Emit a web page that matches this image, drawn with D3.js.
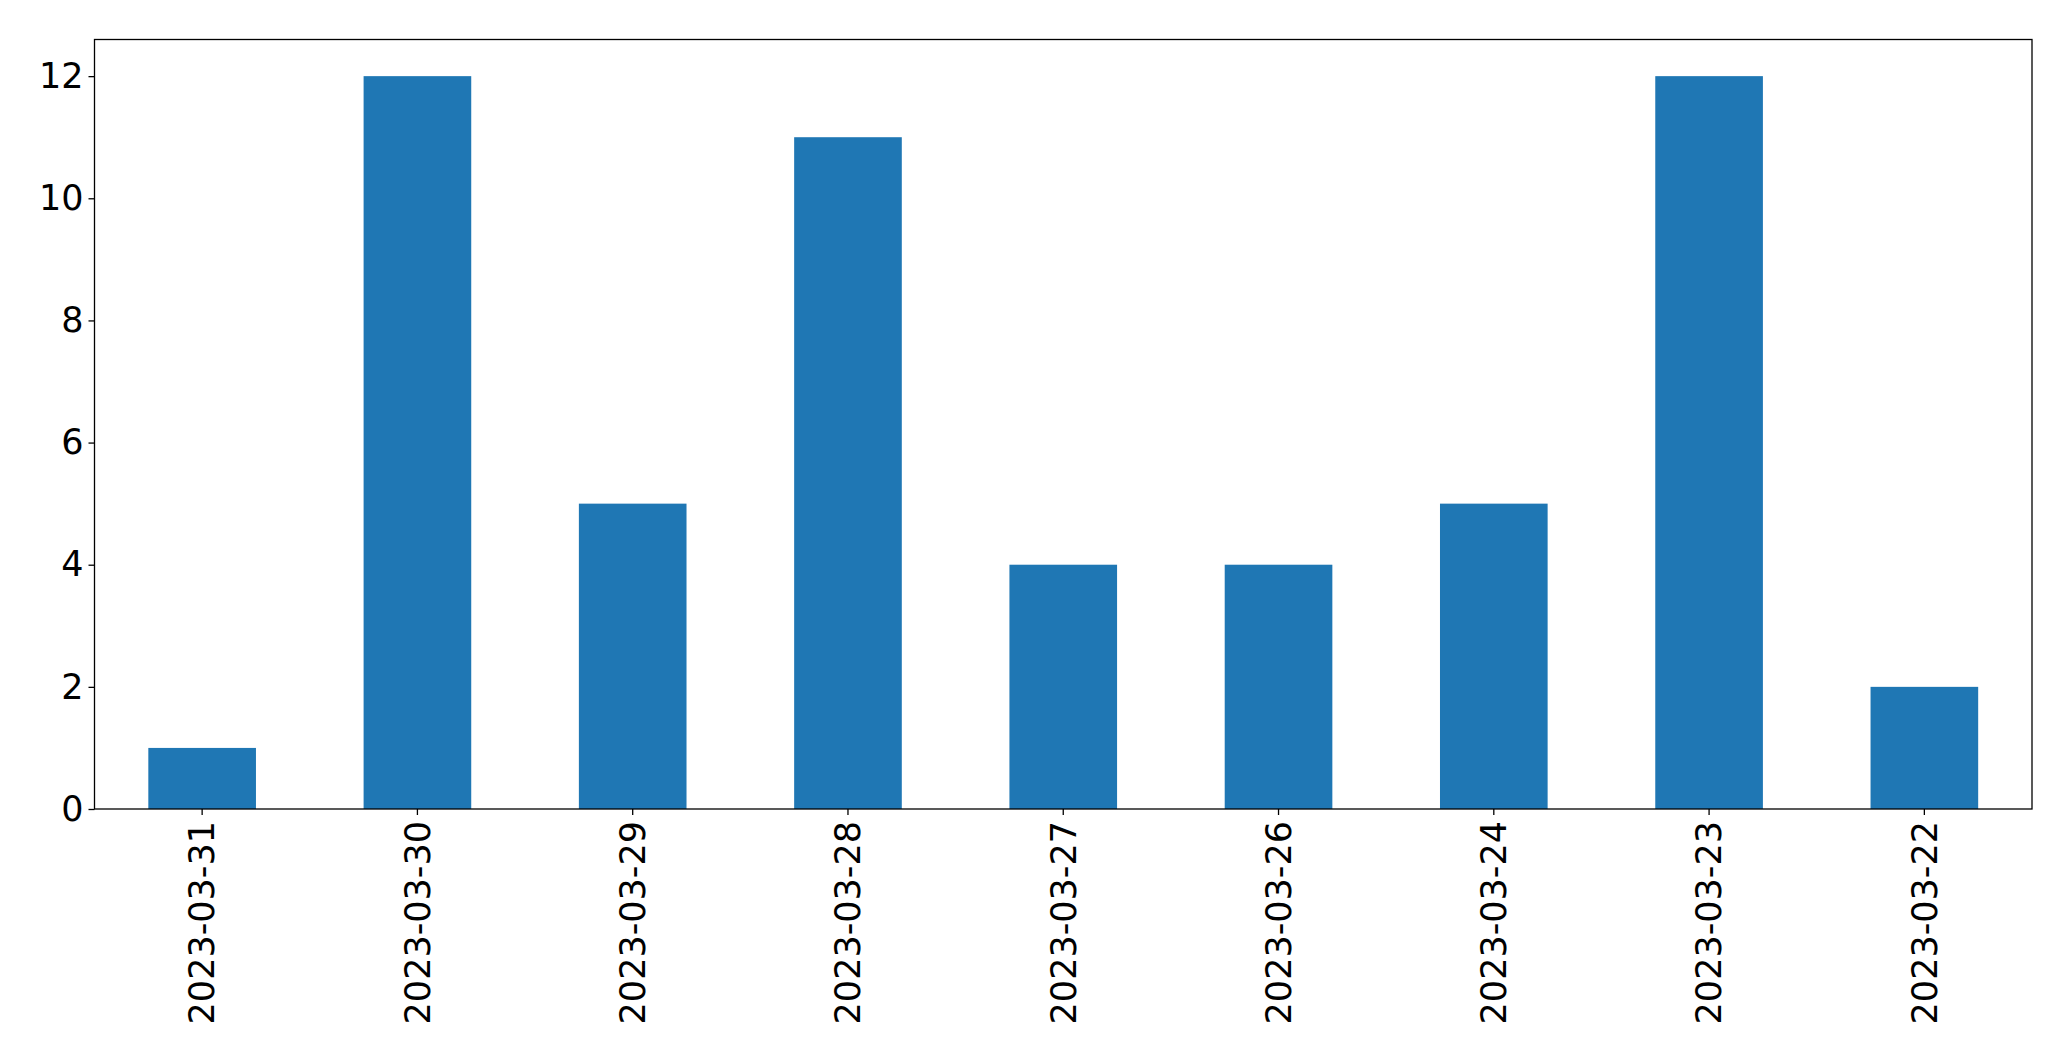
<!DOCTYPE html>
<html>
<head>
<meta charset="utf-8">
<script src="https://cdn.jsdelivr.net/npm/d3@7"></script>
<style>
html,body{margin:0;padding:0;background:#fff;}
svg{display:block;}
</style>
</head>
<body>
<script>
const categories = ["2023-03-31","2023-03-30","2023-03-29","2023-03-28","2023-03-27","2023-03-26","2023-03-24","2023-03-23","2023-03-22"];
const values = [1,12,5,11,4,4,5,12,2];
const yTicks = [0,2,4,6,8,10,12];

const W = 2071, H = 1061;
const mLeft = 94.5, mRight = 2032, mTop = 39.5, mBottom = 809;
const font = "'DejaVu Sans', sans-serif";
const fs = 35;

const svg = d3.select("body").append("svg").attr("width", W).attr("height", H);

const x = d3.scaleBand().domain(categories).range([mLeft, mRight]).paddingInner(0.5).paddingOuter(0.25);
const y = d3.scaleLinear().domain([0, 12.6]).range([mBottom, mTop]);

svg.append("g").selectAll("rect").data(values).join("rect")
  .attr("x", (d,i) => x(categories[i]))
  .attr("width", x.bandwidth())
  .attr("y", d => y(d))
  .attr("height", d => y(0) - y(d))
  .attr("fill", "#1f77b4");

// frame
svg.append("rect").attr("x", mLeft).attr("y", mTop).attr("width", mRight-mLeft).attr("height", mBottom-mTop)
  .attr("fill", "none").attr("stroke", "#000").attr("stroke-width", 1.3);

// y axis
const ya = svg.append("g").attr("transform", `translate(${mLeft},0)`)
  .call(d3.axisLeft(y).tickValues(yTicks).tickSize(6).tickPadding(5).tickFormat(d3.format("d")));
ya.select(".domain").remove();
ya.selectAll("line").attr("stroke", "#000").attr("stroke-width", 1.3);
ya.selectAll("text").attr("font-family", font).attr("font-size", fs).attr("fill", "#000");

// x axis
const xa = svg.append("g").attr("transform", `translate(0,${mBottom})`)
  .call(d3.axisBottom(x).tickSize(6).tickPadding(10));
xa.select(".domain").remove();
xa.selectAll("line").attr("stroke", "#000").attr("stroke-width", 1.3);
xa.selectAll("text")
  .attr("font-family", font).attr("font-size", fs).attr("fill", "#000")
  .attr("text-anchor", "end")
  .attr("transform", "rotate(-90)")
  .attr("x", -12).attr("y", 0).attr("dy", "0.35em");
</script>
</body>
</html>
